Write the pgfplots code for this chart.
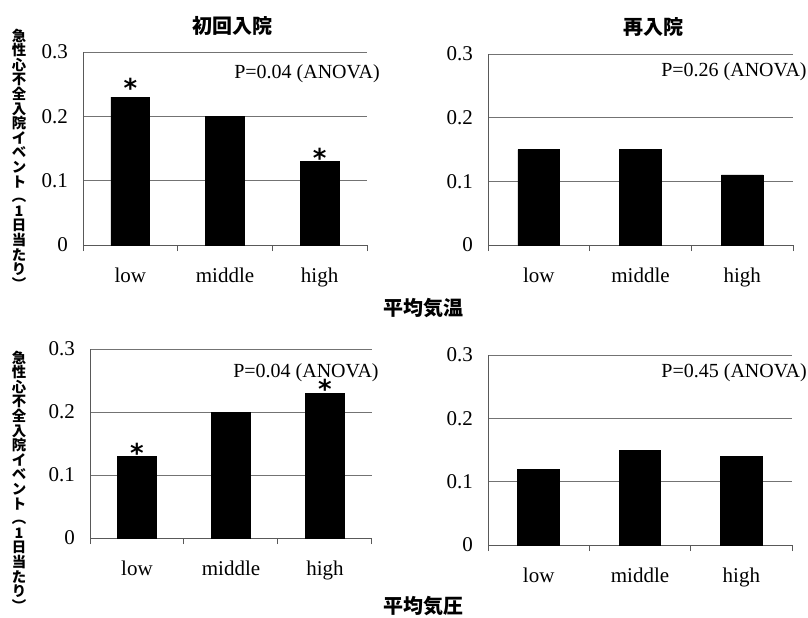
\documentclass[border=0pt]{standalone}
\usepackage{fontspec}
\setmainfont{Liberation Serif}
\newfontfamily\cjk{Noto Sans CJK JP}
\newfontfamily\symfont{DejaVu Sans}
\usepackage{graphicx}
\usepackage{pgfplots}
\pgfplotsset{compat=1.18}

\pgfplotsset{
  panel/.style={
    scale only axis,
    ybar, bar width=0.41,
    xmin=0.5, xmax=3.5, ymin=0, ymax=0.3,
    axis x line=bottom, axis y line=left,
    axis line style={black!65, line width=0.5pt, -},
    tick align=outside,
    major tick length=0pt,
    xtick={1,2,3}, xticklabels={low,middle,high},
    extra x ticks={0.5,1.5,2.5,3.5}, extra x tick labels={},
    extra x tick style={major tick length=3pt, tick style={black!65, line width=0.5pt}},
    ytick={0,0.1,0.2,0.3}, yticklabels={0,0.1,0.2,0.3},
    ymajorgrids, grid style={black!55, line width=0.5pt},
    tick label style={font=\fontsize{10.5}{12}\selectfont},
    xticklabel style={yshift=-8pt},
    yticklabel style={xshift=-4pt},
    clip=false,
  },
  bars/.style={fill=black, draw=black},
}
\tikzset{
  pval/.style={anchor=base east, inner sep=0pt, font=\fontsize{10}{12}\selectfont},
  sig/.style={anchor=base, inner sep=0pt, font=\symfont\bfseries\fontsize{13}{13}\selectfont},
}

\newcommand\ylab{急\\性\\心\\不\\全\\入\\院\\イ\\ベ\\ン\\ト\\︵\\1\\日\\当\\た\\り\\︶}

\begin{document}
\begin{tikzpicture}
\useasboundingbox (0,0) rectangle (404pt,-308.5pt);

% first admission vs. mean temperature
\begin{axis}[panel, at={(41.5pt,-122.5pt)}, anchor=south west, width=142pt, height=96.5pt]
  \addplot[bars] coordinates {(1,0.23) (2,0.20) (3,0.13)};
  \node[pval] at (rel axis cs:1.046,0.865) {P=0.04 (ANOVA)};
  \node[sig, yshift=-0.3pt] at (axis cs:1,0.23) {*};
  \node[sig, yshift=-2.9pt] at (axis cs:3,0.13) {*};
\end{axis}

% readmission vs. mean temperature
\begin{axis}[panel, at={(244pt,-122.5pt)}, anchor=south west, width=152.5pt, height=95.5pt]
  \addplot[bars] coordinates {(1,0.15) (2,0.15) (3,0.11)};
  \node[pval] at (rel axis cs:1.046,0.88) {P=0.26 (ANOVA)};
\end{axis}

% first admission vs. mean pressure
\begin{axis}[panel, at={(45pt,-269pt)}, anchor=south west, width=141pt, height=94.5pt]
  \addplot[bars] coordinates {(1,0.13) (2,0.20) (3,0.23)};
  \node[pval] at (rel axis cs:1.025,0.847) {P=0.04 (ANOVA)};
  \node[sig, yshift=-3.1pt] at (axis cs:1,0.13) {*};
  \node[sig, yshift=-2.9pt] at (axis cs:3,0.23) {*};
\end{axis}

% readmission vs. mean pressure
\begin{axis}[panel, at={(244pt,-272.5pt)}, anchor=south west, width=152pt, height=95pt]
  \addplot[bars] coordinates {(1,0.12) (2,0.15) (3,0.14)};
  \node[pval] at (rel axis cs:1.05,0.884) {P=0.45 (ANOVA)};
\end{axis}

% titles and shared labels
\node[font=\cjk\bfseries\fontsize{10}{12}\selectfont] at (116pt,-13pt) {初回入院};
\node[font=\cjk\bfseries\fontsize{10}{12}\selectfont] at (326.5pt,-13.5pt) {再入院};
\node[font=\cjk\bfseries\fontsize{10}{12}\selectfont] at (211.5pt,-154pt) {平均気温};
\node[font=\cjk\bfseries\fontsize{10}{12}\selectfont] at (211.5pt,-303pt) {平均気圧};
\node[font=\cjk\bfseries\fontsize{7.2}{7.3}\selectfont, align=center, inner sep=0pt] at (9.5pt,-79.5pt) {\ylab};
\node[font=\cjk\bfseries\fontsize{7.2}{7.3}\selectfont, align=center, inner sep=0pt] at (9.5pt,-240.5pt) {\ylab};
\end{tikzpicture}
\end{document}
